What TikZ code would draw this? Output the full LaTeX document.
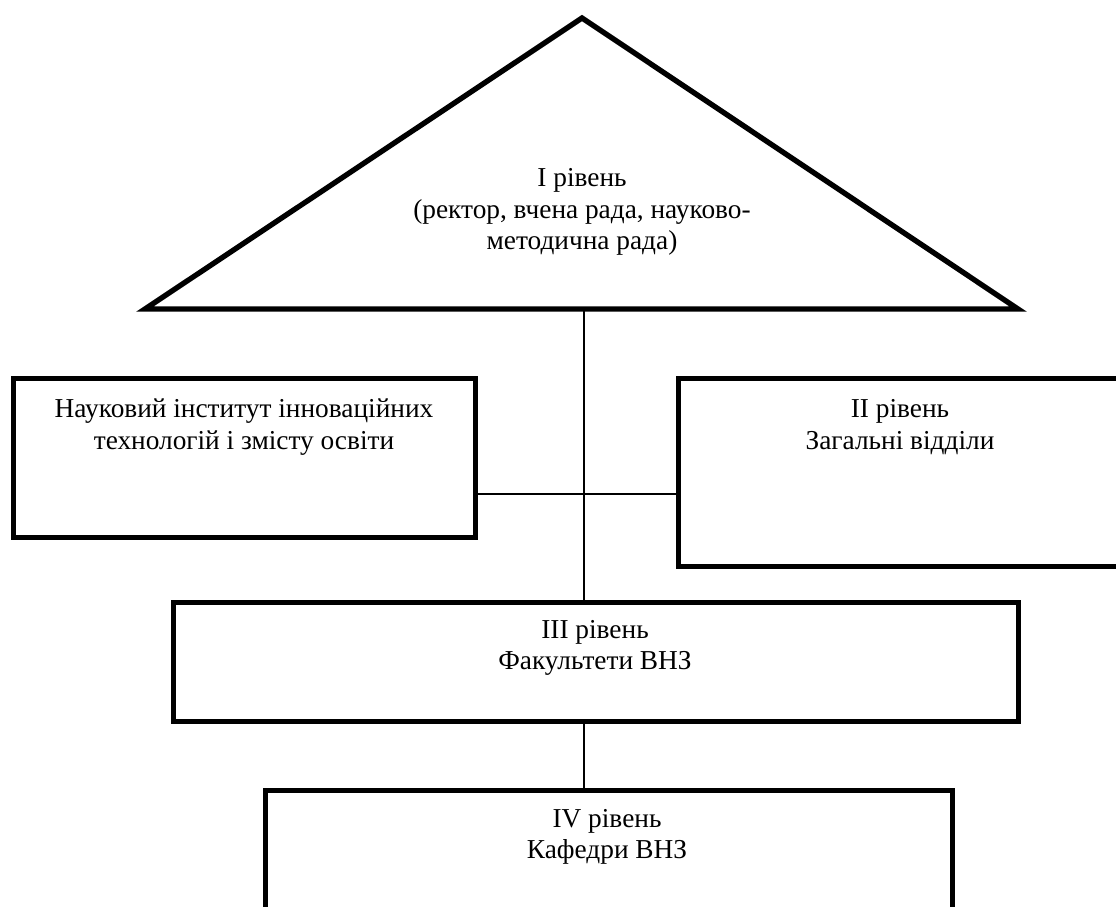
\documentclass[tikz,border=0pt]{standalone}
\usepackage{fontspec}
\setmainfont{Liberation Serif}
\usetikzlibrary{positioning}

\tikzset{every picture/.style={line width=0.75pt}}
\tikzset{
  levelbox/.style={draw, line width=3.75pt, rectangle, inner sep=0pt},
  levellabel/.style={align=center, inner sep=0.75pt, font=\fontsize{20.5}{23.5}\selectfont},
  link/.style={line width=1.3pt}
}

\begin{document}
\begin{tikzpicture}[x=0.75pt,y=0.75pt,yscale=-1,xscale=1]
\useasboundingbox (0,0) rectangle (1116,906);
\clip (0,0) rectangle (1116,906);

%Shape: Triangle [level I]
\draw [line width=4pt, miter limit=10] (582,18) -- (1018,309) -- (145,309) -- cycle ;
\coordinate (lvlone) at (584,309);
\coordinate (hub) at (584,494);

%Shape: Rectangle [institute]
\node (inst) [levelbox, minimum width=346.5pt, minimum height=119.25pt] at (244,457.5) {};
%Shape: Rectangle [level II]
\node (lvltwo) [levelbox, minimum width=333pt, minimum height=141pt] at (900,472) {};
%Shape: Rectangle [level III]
\node (lvlthree) [levelbox, minimum width=633.75pt, minimum height=89.25pt] at (595.5,661.5) {};
%Shape: Rectangle [level IV]
\node (lvlfour) [levelbox, minimum width=515.25pt, minimum height=127.5pt] at (608.5,875) {};

%Straight Lines
\draw [link] (lvlone) -- (lvlone |- lvlthree.north) ;
\draw [link] (inst.east |- hub) -- (lvltwo.west |- hub) ;
\draw [link] (lvlone |- lvlthree.south) -- (lvlone |- lvlfour.north) ;

% Text Node
\node (lvlonetxt) [levellabel] at (582,212) {I рівень\\(ректор, вчена рада, науково-\\методична рада)};
% Text Node
\node (insttxt) [levellabel] at (244,427) {Науковий інститут інноваційних\\технологій і змісту освіти};
% Text Node
\node (lvltwotxt) [levellabel] at (900,427) {II рівень\\Загальні відділи};
% Text Node
\node (lvlthreetxt) [levellabel] at (595,648) {III рівень\\Факультети ВНЗ};
% Text Node
\node (lvlfourtxt) [levellabel] at (607,837) {IV рівень\\Кафедри ВНЗ};

\end{tikzpicture}
\end{document}
